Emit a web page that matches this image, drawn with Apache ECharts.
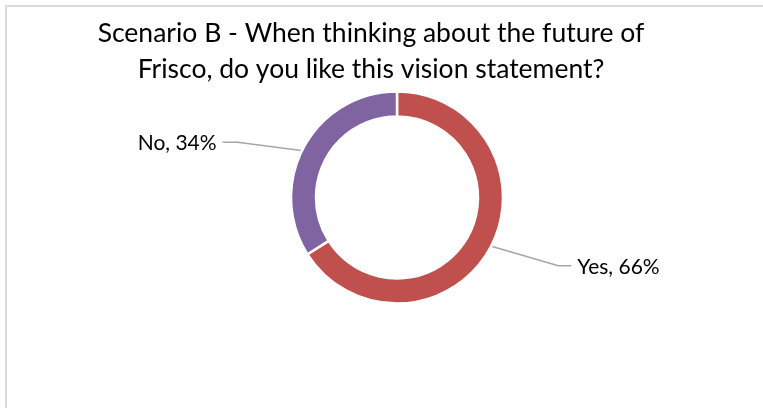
<!DOCTYPE html>
<html>
<head>
<meta charset="utf-8">
<script src="https://cdn.jsdelivr.net/npm/echarts@6/dist/echarts.min.js"></script>
<style>
  html, body { margin: 0; padding: 0; background: #ffffff; }
  #chart { width: 763px; height: 408px; }
  #frame {
    position: absolute; left: 5px; top: 5px; width: 758px; height: 403px;
    border-left: 2px solid #d9d9d9; border-top: 2px solid #d9d9d9;
    pointer-events: none; box-sizing: border-box;
  }
</style>
</head>
<body>
<div id="chart"></div>
<div id="frame"></div>
<script>
// Survey answers and their shares (percent)
const categories = ['Yes', 'No'];
const shares = [66, 34];
const sliceColors = ['#c0504d', '#8064a2'];
const titleText = 'Scenario B - When thinking about the future of\nFrisco, do you like this vision statement?';

const FONT = 'Lato';
const CX = 397, CY = 197.5;
const R_IN = 81, R_OUT = 106;
const R_LINE = 94;              // leader lines start in the middle of the ring
// leader line shape per slice: [bend dx, bend dy, end dx, end dy] relative to start
const leaderShape = [[79, 23, 92, 23], [-77, -10, -92, -10]];

const total = shares.reduce((a, b) => a + b, 0);
function midAngle(i) {
  let cum = 0;
  for (let k = 0; k < i; k++) cum += shares[k];
  const frac = (cum + shares[i] / 2) / total;
  return (90 - frac * 360) * Math.PI / 180;
}

const chart = echarts.init(document.getElementById('chart'));
chart.setOption({
  animation: false,
  title: {
    text: titleText,
    left: 366,
    top: 10,
    textAlign: 'center',
    textStyle: { fontFamily: FONT, fontSize: 26.5, fontWeight: 'normal', color: '#000', lineHeight: 36 }
  },
  series: [{
    type: 'pie',
    center: [CX, CY],
    radius: [R_IN, R_OUT],
    startAngle: 90,
    clockwise: true,
    avoidLabelOverlap: false,
    itemStyle: { borderColor: '#ffffff', borderWidth: 2.5 },
    label: {
      show: true,
      position: 'outside',
      formatter: p => p.name + ', ' + p.value + '%',
      fontFamily: FONT, fontSize: 21, color: '#000'
    },
    labelLine: { show: true, lineStyle: { color: '#a6a6a6', width: 1.5 } },
    labelLayout: function (p) {
      const i = p.dataIndex;
      const a = midAngle(i);
      const s = [CX + R_LINE * Math.cos(a), CY - R_LINE * Math.sin(a)];
      const d = leaderShape[i];
      const bend = [s[0] + d[0], s[1] + d[1]];
      const end = [s[0] + d[2], s[1] + d[3]];
      const right = d[2] > 0;
      return {
        x: end[0] + (right ? 6 : -6),
        y: end[1] + 1,
        align: right ? 'left' : 'right',
        verticalAlign: 'middle',
        labelLinePoints: [s, bend, end]
      };
    },
    data: categories.map((c, i) => ({ name: c, value: shares[i], itemStyle: { color: sliceColors[i] } }))
  }]
});
</script>
</body>
</html>
